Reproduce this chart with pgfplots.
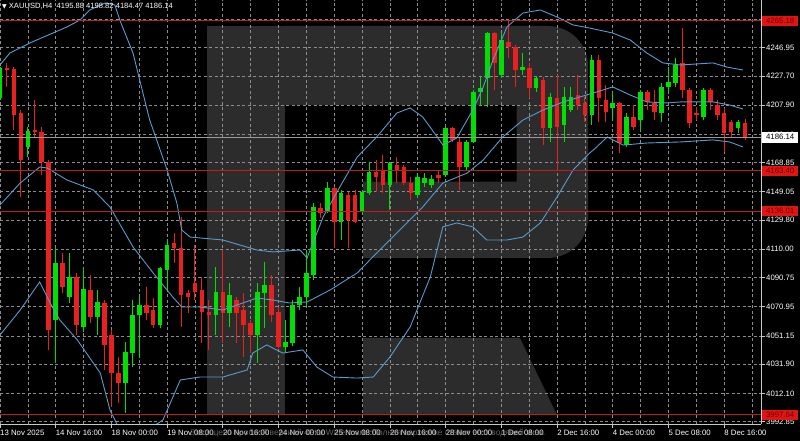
\documentclass[border=0pt]{standalone}
\usepackage{fontspec}
\setmainfont{Liberation Sans}
\newfontfamily\dejavu{DejaVu Sans}
\usepackage{pgfplots}
\pgfplotsset{compat=1.18}
\usepackage{pgfplotstable}

\definecolor{bull}{RGB}{0,224,0}
\definecolor{bear}{RGB}{232,32,32}
\definecolor{band}{RGB}{86,156,204}
\definecolor{gridc}{RGB}{140,140,140}
\definecolor{lvl}{RGB}{190,30,30}
\definecolor{wm}{RGB}{44,44,44}
\definecolor{axisc}{RGB}{200,200,200}
\definecolor{boxred}{RGB}{225,20,20}
\definecolor{boxtxt}{RGB}{110,0,0}

\pgfplotsset{candle/.style={only marks, mark=*, mark size=0pt, mark options={draw=none, fill=none}}}

\pgfplotstableread{
x o h l c
0 4212.8 4234.0 4211.4 4233.2
4 4179.7 4193.3 4172.9 4190.6
8 4061.9 4110.9 4032.7 4100.5
10 4077.8 4107.5 4073.5 4091.4
12 4057.4 4097.3 4054.0 4083.0
14 4064.2 4082.3 4051.8 4074.4
18 4019.0 4047.2 3998.8 4040.4
19 4039.3 4075.5 4030.2 4065.4
20 4065.4 4077.8 4036.1 4072.1
23 4058.6 4098.2 4056.5 4097.3
24 4095.9 4116.3 4081.2 4112.9
31 4065.4 4098.2 4051.8 4081.2
33 4066.7 4087.1 4057.4 4079.0
37 4051.8 4087.1 4032.7 4081.2
38 4080.3 4101.6 4056.5 4085.7
41 4043.8 4061.9 4040.4 4047.2
42 4046.3 4075.5 4044.0 4072.1
43 4072.1 4084.6 4068.7 4077.8
44 4077.8 4109.5 4071.0 4093.9
45 4092.5 4141.4 4089.1 4139.0
47 4135.5 4155.9 4134.6 4151.6
49 4128.7 4150.3 4116.3 4148.2
52 4135.5 4150.3 4133.3 4149.1
53 4148.2 4169.5 4146.9 4162.7
56 4153.7 4169.5 4136.7 4168.6
60 4146.9 4161.8 4145.7 4159.3
61 4155.0 4161.8 4152.5 4158.4
62 4154.0 4160.5 4151.5 4157.8
64 4160.5 4193.3 4159.3 4192.2
67 4166.1 4184.3 4163.9 4183.1
68 4183.1 4218.2 4182.2 4217.1
69 4217.1 4227.3 4208.0 4219.4
70 4226.2 4257.8 4206.9 4256.7
72 4228.4 4256.7 4226.2 4252.2
75 4231.8 4243.1 4228.4 4234.0
77 4219.4 4227.3 4217.1 4226.2
79 4192.2 4216.0 4183.1 4213.7
81 4194.4 4220.5 4183.1 4213.7
82 4204.6 4220.5 4203.5 4213.7
85 4201.2 4242.0 4194.4 4238.6
88 4205.8 4217.1 4197.8 4209.2
90 4180.8 4202.4 4179.7 4200.1
92 4197.8 4218.2 4191.0 4217.1
95 4202.4 4222.8 4196.7 4220.5
96 4220.5 4234.0 4217.1 4223.9
97 4222.8 4239.8 4220.5 4235.2
101 4200.1 4219.4 4197.8 4218.2
106 4192.2 4197.8 4188.8 4196.7
}\upcandles

\pgfplotstableread{
x o h l c
1 4233.2 4236.6 4220.5 4232.1
2 4232.3 4234.0 4191.0 4201.2
3 4202.6 4204.6 4145.7 4170.7
5 4191.0 4211.4 4185.6 4189.7
6 4189.7 4193.3 4160.5 4169.5
7 4169.5 4170.7 4041.6 4055.2
9 4100.7 4107.5 4080.3 4084.4
11 4091.4 4093.9 4051.8 4058.6
13 4082.3 4092.5 4059.9 4064.2
15 4073.3 4075.5 4028.0 4045.0
16 4051.8 4055.2 4003.0 4025.7
17 4025.9 4037.0 4005.6 4019.2
21 4072.1 4084.6 4061.9 4066.7
22 4068.7 4076.9 4056.5 4058.6
25 4114.3 4121.1 4100.7 4110.9
26 4110.9 4132.1 4057.4 4079.0
27 4080.3 4082.3 4066.7 4077.6
28 4087.1 4112.9 4075.5 4081.0
29 4082.3 4091.2 4046.3 4067.6
30 4067.6 4075.5 4041.6 4065.4
32 4081.2 4109.5 4046.3 4066.7
34 4075.5 4077.8 4046.3 4066.7
35 4068.7 4080.3 4037.0 4058.6
36 4059.9 4061.9 4039.5 4051.8
39 4085.7 4092.5 4060.8 4065.4
40 4067.6 4071.0 4042.9 4043.8
46 4138.0 4141.4 4131.3 4134.6
48 4151.6 4152.5 4110.9 4128.7
50 4146.9 4149.1 4110.9 4129.9
51 4146.9 4150.3 4127.9 4128.7
54 4162.7 4170.7 4149.1 4159.3
55 4163.9 4174.0 4148.2 4153.7
57 4167.3 4172.9 4155.0 4163.9
58 4166.1 4167.3 4153.7 4155.0
59 4155.0 4159.3 4143.5 4148.2
63 4160.5 4163.0 4155.0 4158.4
65 4192.4 4193.3 4183.1 4184.3
66 4183.1 4185.6 4150.3 4166.1
71 4256.7 4257.8 4218.2 4236.4
73 4251.0 4265.8 4239.8 4247.6
74 4247.6 4248.8 4220.5 4231.8
76 4233.0 4236.4 4212.6 4219.4
78 4225.0 4227.3 4180.8 4192.2
80 4212.6 4228.4 4163.9 4193.3
83 4214.8 4228.4 4204.6 4208.0
84 4209.2 4213.7 4196.7 4201.2
86 4238.6 4242.0 4196.7 4212.6
87 4211.4 4221.6 4196.7 4203.5
89 4209.2 4210.3 4175.2 4182.0
91 4200.1 4208.0 4191.0 4193.3
93 4217.1 4218.2 4204.6 4210.3
94 4209.2 4218.2 4197.8 4203.5
98 4236.4 4260.1 4212.6 4218.2
99 4218.2 4219.4 4192.2 4195.6
100 4202.4 4206.9 4197.8 4201.2
102 4218.2 4219.4 4204.6 4210.3
103 4208.0 4211.4 4197.8 4201.2
104 4202.4 4205.8 4176.3 4188.8
105 4196.7 4197.8 4185.4 4189.9
107 4195.88 4198.82 4184.47 4186.14
}\downcandles

\pgfplotstableread{
x y
0 4235.2
1.4 4243.3
4.3 4250.2
9.6 4261.0
11.5 4265.8
12.9 4272.6
15.1 4277.3
16.5 4276.0
17.2 4265.8
19.1 4243.3
21.5 4197.8
24.0 4163.9
25.4 4141.4
26.1 4123.1
27.3 4118.3
32.0 4116.3
36.9 4109.5
39.2 4108.2
43.1 4109.5
44.1 4104.1
46.4 4131.9
48.8 4152.3
51.3 4172.7
54.1 4186.3
57.0 4202.6
58.9 4206.0
60.7 4199.9
62.8 4186.3
63.6 4180.8
65.6 4185.6
67.9 4204.6
69.4 4220.3
70.8 4238.6
72.8 4261.0
75.1 4270.5
77.6 4272.6
80.0 4267.8
82.3 4262.4
84.7 4260.3
88.0 4256.9
90.5 4252.2
92.9 4243.3
95.2 4236.6
97.7 4235.2
102.4 4236.6
104.4 4233.8
106.7 4231.8
}\upperband

\pgfplotstableread{
x y
0 4140.1
2.9 4155.0
5.7 4165.9
6.8 4165.2
9.6 4157.1
13.4 4150.3
15.8 4138.7
19.1 4111.6
22.0 4093.9
24.8 4077.6
26.1 4070.8
28.7 4070.8
32.0 4068.7
36.9 4076.9
39.2 4075.5
41.6 4073.5
44.1 4074.2
47.4 4082.3
51.3 4093.9
54.1 4107.5
57.0 4121.1
60.7 4138.7
63.6 4155.0
67.1 4161.8
69.4 4170.7
72.2 4186.3
75.1 4197.8
78.0 4204.6
80.9 4210.1
83.3 4213.5
85.7 4216.9
88.0 4220.3
90.5 4214.8
92.9 4210.1
95.8 4209.4
97.7 4210.1
102.4 4210.1
104.8 4208.0
106.7 4205.3
}\middleband

\pgfplotstableread{
x y
0 4051.8
2.9 4068.7
5.7 4087.8
7.2 4073.5
8.6 4061.9
11.1 4048.4
14.4 4025.9
15.8 4000.8
17.2 3987.2
20.1 3983.8
23.4 3994.0
25.9 4021.2
28.7 4023.2
32.0 4023.2
35.5 4028.0
36.3 4039.5
38.3 4045.0
40.6 4039.5
43.5 4041.6
45.5 4030.0
47.8 4023.2
51.3 4022.5
53.6 4023.2
56.0 4036.8
58.9 4057.2
61.8 4091.2
63.6 4125.2
65.6 4127.9
67.9 4125.2
69.9 4116.3
72.8 4116.3
75.1 4118.3
77.6 4127.9
80.0 4145.5
82.3 4163.9
84.7 4175.4
85.7 4179.5
87.2 4186.3
89.5 4180.8
92.9 4182.2
97.7 4182.9
102.4 4184.3
104.8 4182.9
106.7 4179.5
}\lowerband

\begin{document}
\begin{tikzpicture}
\useasboundingbox (0pt,0pt) rectangle (800pt,441pt);
\fill[black] (0pt,0pt) rectangle (800pt,441pt);
% R watermark
\fill[wm] (206.7pt,26pt) rectangle (285pt,415pt);
\fill[wm] (285pt,415pt) -- (548pt,415pt) arc[start angle=90,end angle=0,radius=40pt]
  -- (588pt,223pt) arc[start angle=0,end angle=-90,radius=40pt]
  -- (363pt,183pt) -- (363pt,259.3pt) -- (516.7pt,259.3pt) -- (516.7pt,336pt) -- (285pt,336pt) -- cycle;
\fill[wm] (363pt,103pt) -- (520pt,103pt) -- (557pt,26pt) -- (363pt,26pt) -- cycle;

\begin{axis}[
  at={(0pt,17pt)}, anchor=south west,
  scale only axis, width=761pt, height=424pt,
  xmin=0, xmax=109.29, ymin=3991.29, ymax=4279.36,
  axis on top=false,
  axis line style={draw=none},
  xtick={0,8,...,104}, minor xtick={4,12,...,108},
  xticklabels={13 Nov 2025,14 Nov 16:00,18 Nov 00:00,19 Nov 08:00,20 Nov 16:00,24 Nov 00:00,25 Nov 08:00,26 Nov 16:00,28 Nov 00:00,1 Dec 08:00,2 Dec 16:00,4 Dec 00:00,5 Dec 08:00,8 Dec 16:00},
  ytick={3992.85,4012.10,4031.90,4051.15,4070.95,4090.75,4110.00,4129.80,4149.05,4168.85,4188.10,4207.90,4227.70,4246.95,4266.20},
  yticklabels={3992.85,4012.10,4031.90,4051.15,4070.95,4090.75,4110.00,4129.80,4149.05,4168.85,4188.10,4207.90,4227.70,4246.95,4266.20},
  xtick pos=bottom, ytick pos=right, yticklabel pos=right,
  tick align=outside, major tick length=4pt, minor tick length=0pt,
  tick style={draw=axisc, line width=0.7pt, solid},
  grid=both,
  major grid style={draw=gridc, line width=0.7pt, dash pattern=on 3pt off 2.5pt},
  minor grid style={draw=gridc, line width=0.7pt, dash pattern=on 3pt off 2.5pt},
  xticklabel style={font=\fontsize{7.8}{9}\selectfont, text=white, anchor=north west, inner sep=0pt, yshift=-2pt},
  yticklabel style={font=\fontsize{7.8}{9}\selectfont, text=white, anchor=west, inner sep=0pt, xshift=1pt},
]
% wicks: from low, upward by (high - low)
\addplot[candle, error bars/.cd, y dir=plus, y explicit, error mark=none,
  error bar style={draw=bull, solid, line width=1pt}]
  table[x=x, y=l, y error expr={\thisrow{h}-\thisrow{l}}] {\upcandles};
\addplot[candle, error bars/.cd, y dir=plus, y explicit, error mark=none,
  error bar style={draw=bear, solid, line width=1pt}]
  table[x=x, y=l, y error expr={\thisrow{h}-\thisrow{l}}] {\downcandles};
% bodies: from open (up) / close (down), upward by body height
\addplot[candle, error bars/.cd, y dir=plus, y explicit, error mark=none,
  error bar style={draw=bull, solid, line width=4.6pt, line cap=butt}]
  table[x=x, y=o, y error expr={\thisrow{c}-\thisrow{o}}] {\upcandles};
\addplot[candle, error bars/.cd, y dir=plus, y explicit, error mark=none,
  error bar style={draw=bear, solid, line width=4.6pt, line cap=butt}]
  table[x=x, y=c, y error expr={\thisrow{o}-\thisrow{c}}] {\downcandles};
% Bollinger bands
\addplot[band, solid, line width=0.9pt, mark=none] table[x=x,y=y] {\upperband};
\addplot[band, solid, line width=0.9pt, mark=none] table[x=x,y=y] {\middleband};
\addplot[band, solid, line width=0.9pt, mark=none] table[x=x,y=y] {\lowerband};
% levels
\addplot[lvl, solid, line width=0.9pt, mark=none] coordinates {(0,4265.18) (109.29,4265.18)};
\addplot[lvl, solid, line width=0.9pt, mark=none] coordinates {(0,4163.40) (109.29,4163.40)};
\addplot[lvl, solid, line width=0.9pt, mark=none] coordinates {(0,4136.01) (109.29,4136.01)};
\addplot[lvl, solid, line width=0.9pt, mark=none] coordinates {(0,3997.64) (109.29,3997.64)};
\addplot[gray!80!white, solid, line width=0.8pt, mark=none] coordinates {(0,4186.14) (109.29,4186.14)};
\end{axis}

\draw[axisc, line width=0.8pt] (0pt,17pt) -- (761pt,17pt);
\draw[axisc, line width=0.8pt] (761pt,17pt) -- (761pt,441pt);

% price boxes
\node[fill=boxred, text=boxtxt, inner sep=0pt, minimum width=36pt, minimum height=10pt, anchor=west, font=\fontsize{7.8}{9}\selectfont] at (762pt,420.1pt) {4265.18};
\node[fill=boxred, text=boxtxt, inner sep=0pt, minimum width=36pt, minimum height=10pt, anchor=west, font=\fontsize{7.8}{9}\selectfont] at (762pt,270.3pt) {4163.40};
\node[fill=boxred, text=boxtxt, inner sep=0pt, minimum width=36pt, minimum height=10pt, anchor=west, font=\fontsize{7.8}{9}\selectfont] at (762pt,230.0pt) {4136.01};
\node[fill=boxred, text=boxtxt, inner sep=0pt, minimum width=36pt, minimum height=10pt, anchor=west, font=\fontsize{7.8}{9}\selectfont] at (762pt,26.3pt) {3997.64};
\node[fill=white, text=black, inner sep=0pt, minimum width=36pt, minimum height=11pt, anchor=west, font=\fontsize{7.8}{9}\selectfont] at (762pt,303.8pt) {4186.14};

% header
\node[anchor=west, text=white, inner sep=0pt, font=\fontsize{7.6}{9}\selectfont] at (2pt,434.5pt) {{\dejavu\fontsize{6}{7}\selectfont ▼}\ XAUUSD,H4\ \ 4195.88 4198.82 4184.47 4186.14};

% trial-version watermark text
\node[anchor=west, text=gray, opacity=0.75, inner sep=0pt, font=\fontsize{8.4}{9}\selectfont] at (190pt,8pt) {Защищено пробной версией 4Stat Watermark. Полная версия не ставит этот водяной знак.};
\end{tikzpicture}
\end{document}
